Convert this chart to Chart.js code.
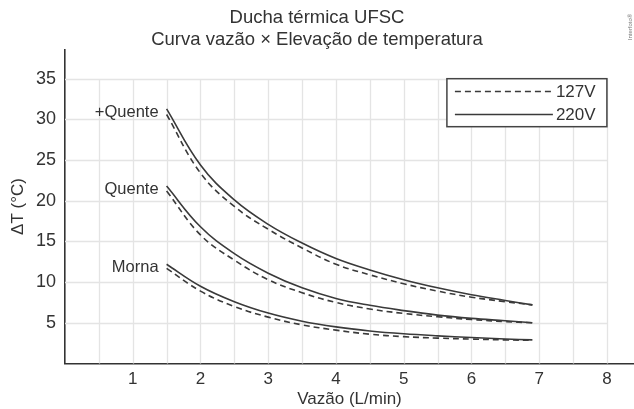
<!DOCTYPE html>
<html>
<head>
<meta charset="utf-8">
<script src="https://cdn.jsdelivr.net/npm/chart.js@4/dist/chart.umd.min.js"></script>
<style>
  html, body { margin: 0; padding: 0; background: #fff; }
  #wrap { width: 634px; height: 409px; }
</style>
</head>
<body>
<div id="wrap"><canvas id="chart-canvas" width="634" height="409"></canvas></div>
<script>
// flow rate (L/min) where each curve was read
const flows = [1.5, 2, 2.5, 3, 3.5, 4, 4.5, 5, 5.5, 6, 6.5, 6.9];

// temperature rise (°C)
const maisQuente220 = [31.3, 24.4, 20.1, 17.1, 14.8, 12.9, 11.5, 10.3, 9.3, 8.45, 7.75, 7.2];
const maisQuente127 = [30.6, 23.4, 19.3, 16.5, 14.2, 12.2, 10.9, 9.8, 8.9, 8.15, 7.6, 7.2];
const quente220 = [21.8, 16.8, 13.5, 11.1, 9.3, 8.0, 7.15, 6.5, 5.95, 5.55, 5.25, 5.0];
const quente127 = [21.2, 15.8, 12.7, 10.3, 8.7, 7.5, 6.7, 6.15, 5.75, 5.4, 5.15, 5.0];
const morna220 = [12.2, 9.5, 7.6, 6.2, 5.2, 4.5, 4.0, 3.65, 3.4, 3.2, 3.02, 2.9];
const morna127 = [11.7, 8.9, 7.0, 5.7, 4.75, 4.1, 3.6, 3.3, 3.12, 3.0, 2.9, 2.85];

const levels = ['+Quente', 'Quente', 'Morna'];
const voltages = ['127V', '220V'];
const seriesByLevel = [
  [maisQuente127, maisQuente220],
  [quente127, quente220],
  [morna127, morna220]
];

const titleLines = ['Ducha térmica UFSC', 'Curva vazão × Elevação de temperatura'];
const xTitle = 'Vazão (L/min)';
const yTitle = 'ΔT (°C)';
const credit = 'Interfoto®';

const FONT = "'Liberation Sans', Arial, Helvetica, sans-serif";
const INK = '#333333';
const LINE = '#3a3a3a';
const DASH = [6, 4];

const pts = vals => flows.map((x, i) => ({ x: x, y: vals[i] }));

const datasets = [];
levels.forEach((lvl, li) => {
  voltages.forEach((v, vi) => {
    datasets.push({
      label: lvl + ' ' + v,
      data: pts(seriesByLevel[li][vi]),
      borderColor: LINE,
      borderWidth: 1.6,
      borderDash: vi === 0 ? DASH : [],
      pointRadius: 0,
      tension: 0.4,
      fill: false
    });
  });
});

// light grid only inside 0..8 x 0..35, like the original
const gridPlugin = {
  id: 'innerGrid',
  beforeDatasetsDraw(chart) {
    const { ctx, scales: { x, y } } = chart;
    const x0 = x.getPixelForValue(0), x1 = x.getPixelForValue(8);
    const y0 = y.getPixelForValue(0), y1 = y.getPixelForValue(35);
    ctx.save();
    ctx.strokeStyle = '#e4e4e4';
    ctx.lineWidth = 1.3;
    ctx.beginPath();
    for (let v = 0.5; v <= 8; v += 0.5) {
      const px = Math.round(x.getPixelForValue(v)) + 0.5;
      ctx.moveTo(px, y0); ctx.lineTo(px, y1);
    }
    for (let v = 5; v <= 35; v += 5) {
      const py = Math.round(y.getPixelForValue(v)) + 0.5;
      ctx.moveTo(x0, py); ctx.lineTo(x1, py);
    }
    ctx.stroke();
    ctx.restore();
  }
};

// curve names, legend box and credit text
const notesPlugin = {
  id: 'notes',
  afterDatasetsDraw(chart) {
    const { ctx, scales: { x, y } } = chart;
    ctx.save();
    ctx.fillStyle = INK;
    ctx.font = '16.5px ' + FONT;
    ctx.textAlign = 'right';
    ctx.textBaseline = 'middle';
    levels.forEach((lvl, li) => {
      const s = seriesByLevel[li];
      const yv = (s[0][0] + s[1][0]) / 2;
      ctx.fillText(lvl, x.getPixelForValue(flows[0]) - 8, y.getPixelForValue(yv) + 1);
    });

    // legend
    const right = x.getPixelForValue(8), top = y.getPixelForValue(35);
    const w = 160, h = 48;
    const left = right - w;
    ctx.fillStyle = '#fff';
    ctx.fillRect(left, top, w, h);
    ctx.strokeStyle = '#444';
    ctx.lineWidth = 1.5;
    ctx.strokeRect(left, top, w, h);
    ctx.font = '17px ' + FONT;
    ctx.textAlign = 'left';
    voltages.forEach((v, vi) => {
      const ly = Math.round(top + 12 + vi * 23) + 0.5;
      ctx.strokeStyle = LINE;
      ctx.lineWidth = 1.6;
      ctx.setLineDash(vi === 0 ? DASH : []);
      ctx.beginPath();
      ctx.moveTo(left + 8, ly);
      ctx.lineTo(left + 106, ly);
      ctx.stroke();
      ctx.setLineDash([]);
      ctx.fillStyle = INK;
      ctx.fillText(v, left + 109, ly + 1);
    });

    // credit
    ctx.translate(630, 27);
    ctx.rotate(-Math.PI / 2);
    ctx.font = '6px ' + FONT;
    ctx.fillStyle = '#777';
    ctx.textAlign = 'center';
    ctx.fillText(credit, 0, 0);
    ctx.restore();
  }
};

const ctx = document.getElementById('chart-canvas').getContext('2d');
new Chart(ctx, {
  type: 'line',
  data: { datasets: datasets },
  options: {
    responsive: false,
    animation: false,
    events: [],
    layout: { padding: 0 },
    plugins: {
      legend: { display: false },
      tooltip: { enabled: false },
      title: {
        display: true,
        text: titleLines,
        color: INK,
        font: { family: FONT, size: 18.5, weight: 'normal', lineHeight: 1.2 },
        padding: { top: 7, bottom: -2 }
      }
    },
    scales: {
      x: {
        type: 'linear',
        min: 0,
        max: 8.4,
        grid: { display: false, drawTicks: false },
        border: { display: true, color: INK, width: 1.6 },
        ticks: {
          stepSize: 1,
          includeBounds: false,
          color: INK,
          padding: 6,
          maxRotation: 0,
          font: { family: FONT, size: 17 },
          callback: v => (v === 0 ? '' : v)
        },
        title: {
          display: true,
          text: xTitle,
          color: INK,
          font: { family: FONT, size: 17 },
          padding: { top: 0, bottom: -1 }
        },
        afterFit: s => { s.height = 45.5; }
      },
      y: {
        type: 'linear',
        min: 0,
        max: 38.6,
        grid: { display: false, drawTicks: false },
        border: { display: true, color: INK, width: 1.6 },
        ticks: {
          stepSize: 5,
          includeBounds: false,
          color: INK,
          padding: 9,
          font: { family: FONT, size: 18 },
          callback: v => (v === 0 ? '' : v)
        },
        title: {
          display: true,
          text: yTitle,
          color: INK,
          font: { family: FONT, size: 17 },
          padding: { top: 8, bottom: 0 }
        },
        afterFit: s => { s.width = 65; }
      }
    }
  },
  plugins: [gridPlugin, notesPlugin]
});
</script>
</body>
</html>
